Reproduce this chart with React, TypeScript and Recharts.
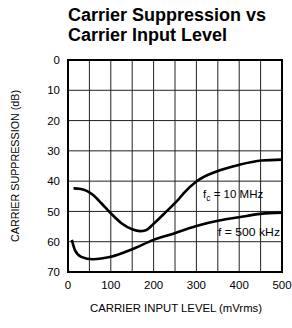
import React from 'react';
import { LineChart, Line, XAxis, YAxis, CartesianGrid, ReferenceArea } from 'recharts';

const xTicks = [0, 50, 100, 150, 200, 250, 300, 350, 400, 450, 500];
const yTicks = [0, 10, 20, 30, 40, 50, 60, 70];

const fc10X = [13, 30, 58, 78, 100, 125, 150, 168, 182, 200, 230, 257, 270, 300, 347, 400, 452, 500];
const fc10Y = [42.4, 42.6, 44.5, 47.3, 50.6, 53.9, 55.9, 56.5, 56.2, 54.1, 50, 46.2, 44, 40.1, 36.8, 34.6, 33.2, 32.9];

const f500X = [9, 16, 31, 58, 100, 150, 200, 240, 300, 350, 400, 450, 500];
const f500Y = [59.4, 62.7, 65, 65.8, 65, 62.5, 59.4, 57.6, 54.8, 53.1, 51.9, 50.8, 50.4];

const fc10 = fc10X.map((x, i) => ({ x, y: fc10Y[i] }));
const f500 = f500X.map((x, i) => ({ x, y: f500Y[i] }));

const FONT = '"Liberation Sans", Arial, Helvetica, sans-serif';

export default function App() {
  return (
    <div style={{ position: 'absolute', left: 0, top: 0, width: 292, height: 328 }}>
      <LineChart width={292} height={328} margin={{ top: 60, right: 10, left: 0, bottom: 0 }}>
        <CartesianGrid stroke="#222" strokeWidth={1} />
        <XAxis
          type="number"
          dataKey="x"
          domain={[0, 500]}
          ticks={xTicks}
          tickFormatter={(v: number) => (v % 100 === 0 ? String(v) : '')}
          axisLine={false}
          tickLine={false}
          height={56}
          tickMargin={3}
          tick={{ fill: '#000', fontSize: 11.5, fontFamily: FONT }}
          allowDuplicatedCategory={false}
        />
        <YAxis
          type="number"
          domain={[0, 70]}
          ticks={yTicks}
          reversed
          axisLine={false}
          tickLine={false}
          width={68}
          tick={{ fill: '#000', fontSize: 11.5, fontFamily: FONT }}
        />
        <ReferenceArea x1={0} x2={500} y1={0} y2={70} fill="none" stroke="#000" strokeWidth={2} fillOpacity={0} />
        <Line data={fc10} dataKey="y" type="monotone" stroke="#000" strokeWidth={2.6} dot={false} isAnimationActive={false} />
        <Line data={f500} dataKey="y" type="monotone" stroke="#000" strokeWidth={2.6} dot={false} isAnimationActive={false} />
      </LineChart>
      <svg width={292} height={328} style={{ position: 'absolute', left: 0, top: 0, pointerEvents: 'none' }}>
        <text x={68} y={20.5} fontFamily={FONT} fontWeight="bold" fontSize={18} fill="#000">Carrier Suppression vs</text>
        <text x={68} y={40.5} fontFamily={FONT} fontWeight="bold" fontSize={18} fill="#000">Carrier Input Level</text>
        <text x={176} y={312} textAnchor="middle" fontFamily={FONT} fontSize={11} fill="#000" textLength={172} lengthAdjust="spacingAndGlyphs">CARRIER INPUT LEVEL (mVrms)</text>
        <text transform="translate(19,166) rotate(-90)" textAnchor="middle" fontFamily={FONT} fontSize={11} fill="#000" textLength={152} lengthAdjust="spacingAndGlyphs">CARRIER SUPPRESSION (dB)</text>
        <text x={203} y={198} fontFamily={FONT} fontSize={11.5} fill="#000">
          f<tspan fontSize={8.5} dy={3}>c</tspan><tspan dy={-3}> = 10 MHz</tspan>
        </text>
        <text x={218} y={235.5} fontFamily={FONT} fontSize={11.5} fill="#000" textLength={62} lengthAdjust="spacingAndGlyphs">f = 500 kHz</text>
      </svg>
    </div>
  );
}
